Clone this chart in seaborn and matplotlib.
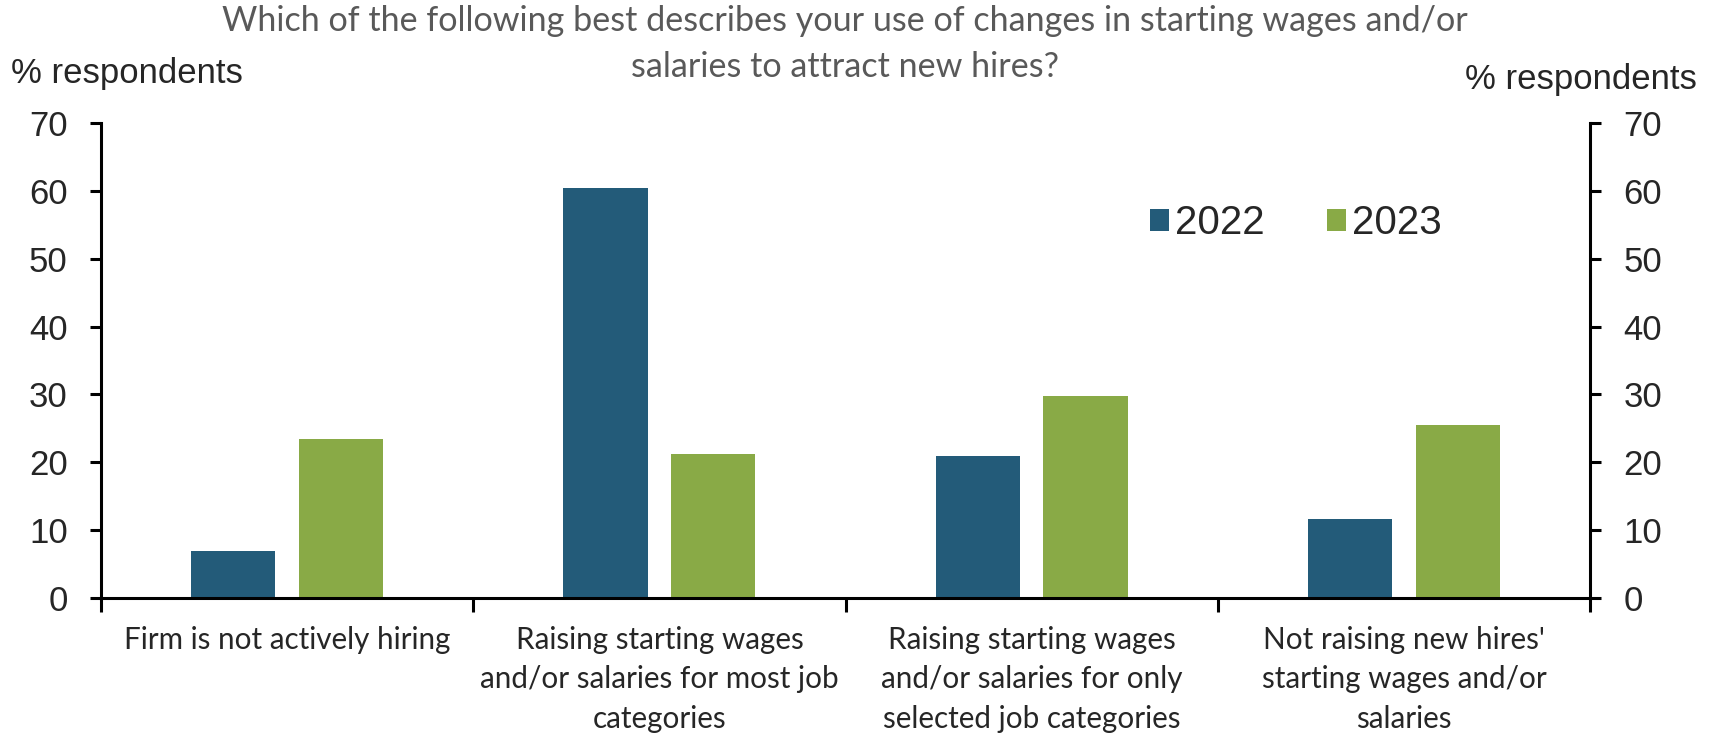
import matplotlib
matplotlib.use("Agg")
import matplotlib.pyplot as plt
import pandas as pd
import seaborn as sns

# Survey answers and shares of respondents (%)
categories = [
    "Firm is not actively hiring",
    "Raising starting wages\nand/or salaries for most job\ncategories",
    "Raising starting wages\nand/or salaries for only\nselected job categories",
    "Not raising new hires'\nstarting wages and/or\nsalaries",
]
years = ["2022", "2023"]
values_2022 = [7.0, 60.4, 20.9, 11.6]
values_2023 = [23.4, 21.2, 29.8, 25.5]
y_ticks = [0, 10, 20, 30, 40, 50, 60, 70]

title = ("Which of the following best describes your use of changes in starting wages and/or\n"
         "salaries to attract new hires?")
axis_label = "% respondents"

colors = ["#235B79", "#89AA46"]

df = pd.DataFrame({
    "category": categories * 2,
    "year": [years[0]] * len(categories) + [years[1]] * len(categories),
    "value": values_2022 + values_2023,
})

sns.set_theme(style="white")
plt.rcParams["font.family"] = ["Liberation Sans", "DejaVu Sans"]

W, H = 1719, 734
fig = plt.figure(figsize=(W / 100, H / 100), dpi=100)
ax = fig.add_axes([101 / W, 1 - 598 / H, (1590 - 101) / W, (598 - 123) / H])

sns.barplot(data=df, x="category", y="value", hue="year", order=categories,
            hue_order=years, palette=colors, saturation=1, width=0.58, gap=0.22,
            linewidth=0, ax=ax)

handles, labels = ax.get_legend_handles_labels()
ax.get_legend().remove()

ax.set_xlim(-0.5, len(categories) - 0.5)
ax.set_ylim(0, 70)
ax.set_xlabel("")
ax.set_ylabel("")

spine_lw = 2.2
for side in ["left", "bottom", "right"]:
    ax.spines[side].set_linewidth(spine_lw)
    ax.spines[side].set_color("black")
ax.spines["top"].set_visible(False)
ax.spines["right"].set_visible(False)

# category separators as major ticks, labels on minor ticks at the centres
ax.set_xticks([i - 0.5 for i in range(len(categories) + 1)])
ax.set_xticklabels([])
ax.set_xticks(range(len(categories)), minor=True)
ax.set_xticklabels(categories, minor=True, family=["Lato", "DejaVu Sans"],
                   fontsize=21.3, linespacing=1.5)
ax.tick_params(axis="x", which="major", direction="out", length=10,
               width=spine_lw, color="black", bottom=True)
ax.tick_params(axis="x", which="minor", length=0, pad=20, bottom=True)

ax.set_yticks(y_ticks)
ax.set_yticklabels([str(v) for v in y_ticks], fontsize=25)
ax.tick_params(axis="y", direction="out", length=8, width=spine_lw,
               color="black", left=True, pad=16)

ax2 = ax.twinx()
ax2.set_ylim(0, 70)
ax2.set_yticks(y_ticks)
ax2.set_yticklabels([str(v) for v in y_ticks], fontsize=25)
ax2.tick_params(axis="y", direction="out", length=8, width=spine_lw,
                color="black", right=True, pad=16)
for side in ["left", "top", "bottom"]:
    ax2.spines[side].set_visible(False)
ax2.spines["right"].set_linewidth(spine_lw)
ax2.spines["right"].set_color("black")
ax2.grid(False)
ax.grid(False)

fig.legend(handles, labels, loc="center left",
           bbox_to_anchor=(1150 / W, 1 - 223 / H), ncol=2, frameon=False,
           fontsize=29, handlelength=0.47, handleheight=0.47,
           handletextpad=0.15, columnspacing=1.54, borderpad=0, borderaxespad=0)

fig.text(845 / W, 1 - 44 / H, title, ha="center", va="center",
         fontsize=24.6, color="#595959", linespacing=1.55,
         family=["Lato", "DejaVu Sans"])
fig.text(11 / W, 1 - 73 / H, axis_label, ha="left", va="center", fontsize=25)
fig.text(1697 / W, 1 - 79 / H, axis_label, ha="right", va="center", fontsize=25)

fig.savefig("out.png", dpi=100, facecolor="white")
